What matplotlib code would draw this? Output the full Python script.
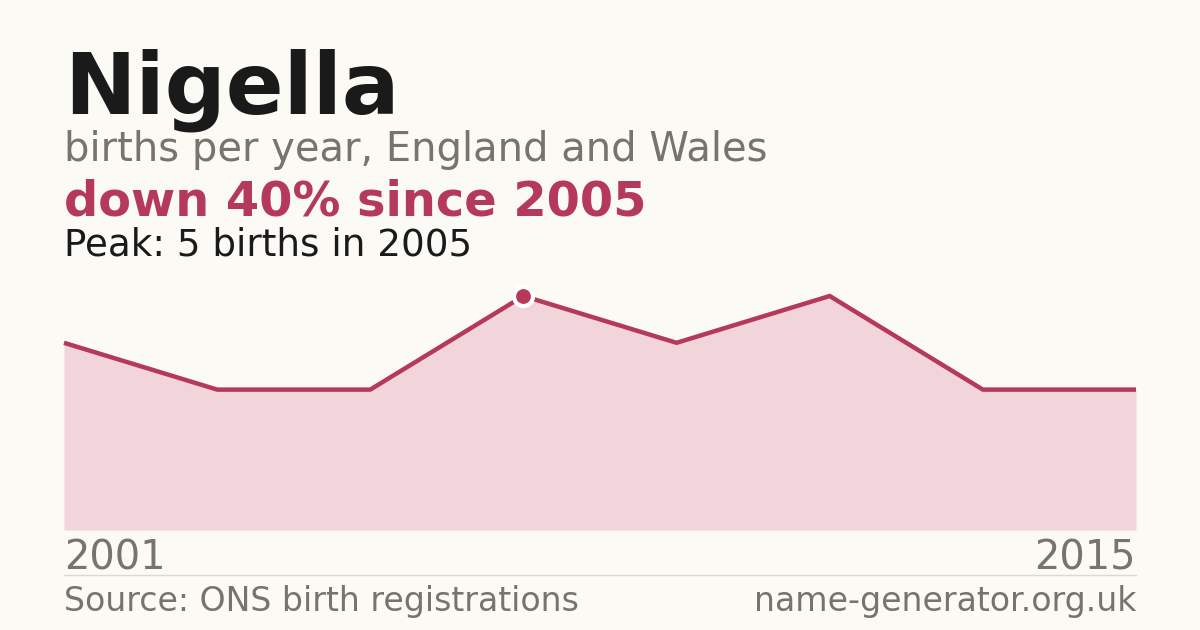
import matplotlib
matplotlib.use("Agg")
import matplotlib.pyplot as plt
from matplotlib.lines import Line2D

years = [2001, 2003, 2004, 2005, 2007, 2010, 2012, 2015]
births = [4, 3, 3, 5, 4, 5, 3, 3]
peak_idx = 3

BG = "#fbfaf5"
RED = "#b5395a"
FILL = "#f2d5da"
DARK = "#1a1a1a"
GRAY = "#78736c"

W, H = 1200, 630
fig = plt.figure(figsize=(12, 6.3), dpi=100, facecolor=BG)

def fx(px): return px / W
def fy(py): return 1 - py / H

ax = fig.add_axes([fx(64), fy(530), fx(1136) - fx(64), fy(296) - fy(530)])
ax.set_facecolor(BG)
x = list(range(len(births)))
ax.fill_between(x, births, 0, color=FILL, linewidth=0, clip_on=False)
ax.plot(x, births, color=RED, linewidth=3.2, solid_joinstyle="miter", solid_capstyle="butt", clip_on=False)
ax.plot([x[peak_idx]], [births[peak_idx]], marker="o", markersize=13.7, markerfacecolor=RED,
        markeredgecolor="white", markeredgewidth=3, clip_on=False, zorder=5)
ax.set_xlim(0, len(births) - 1)
ax.set_ylim(0, max(births))
ax.axis("off")

fig.text(fx(64), fy(113), "Nigella", fontsize=61.5, fontweight="bold", color=DARK, va="baseline")
fig.text(fx(64), fy(161), "births per year, England and Wales", fontsize=28.8, color=GRAY, va="baseline")
fig.text(fx(64), fy(215), "down 40% since 2005", fontsize=34.5, fontweight="bold", color=RED, va="baseline")
fig.text(fx(64), fy(255), f"Peak: {births[peak_idx]} births in {years[peak_idx]}", fontsize=26.8, color=DARK, va="baseline")
fig.text(fx(64), fy(570), str(years[0]), fontsize=28.7, color=GRAY, va="baseline")
fig.text(fx(1136), fy(570), str(years[-1]), fontsize=28.7, color=GRAY, va="baseline", ha="right")
fig.add_artist(Line2D([fx(64), fx(1136)], [fy(575), fy(575)], color="#dcd9d2", linewidth=1))
fig.text(fx(64), fy(611), "Source: ONS birth registrations", fontsize=23.9, color=GRAY, va="baseline")
fig.text(fx(1136), fy(611), "name-generator.org.uk", fontsize=23.9, color=GRAY, va="baseline", ha="right")

fig.savefig("out.png", dpi=100, facecolor=BG)
